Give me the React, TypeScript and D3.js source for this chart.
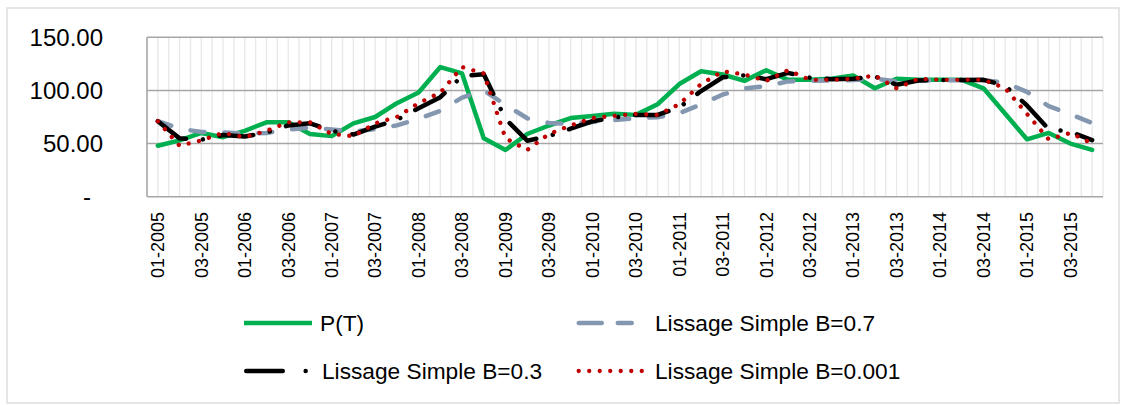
import React from 'react';
import * as d3 from 'd3';

// quarterly periods, labelled "QQ-YYYY"
const years = [2005, 2006, 2007, 2008, 2009, 2010, 2011, 2012, 2013, 2014, 2015];
const quarterCodes = ['01', '02', '03', '04'];
const periods = years.flatMap(y => quarterCodes.map(q => `${q}-${y}`));

const pT = [
  48, 53, 60, 56, 62, 70, 70, 59, 57, 69, 75, 88, 98, 122, 116, 55, 44, 59, 67, 74, 76, 78,
  77, 87, 106, 118, 115, 109, 119, 110, 110, 111, 114, 102, 111, 110, 110, 110, 102, 78, 54, 60, 50, 44
];
const lissage07 = [
  71, 64.1, 60.8, 60.6, 59.2, 60, 63, 65.1, 63.3, 61.4, 63.7, 67.1, 73.4, 80.8, 93.2, 100, 86.5, 73.8, 69.4, 68.7, 70.3, 72,
  73.8, 74.8, 78.5, 86.8, 96.2, 101.8, 104, 108.5, 109, 109.3, 109.8, 111.1, 108.4, 109.2, 109.4, 109.6, 109.7, 107.4, 98.6, 85.2, 77.6, 69.3
];
const lissage03 = [
  71, 54.9, 53.6, 58.1, 56.6, 60.4, 67.1, 69.1, 62, 58.5, 65.9, 72.3, 83.3, 93.6, 113.5, 115.3, 73.1, 52.7, 57.1, 64, 71, 74.5,
  77, 77, 84, 99.4, 112.4, 114.2, 110.6, 116.5, 112, 110.6, 110.9, 113.1, 105.3, 109.3, 109.8, 109.9, 110, 104.4, 85.9, 63.6, 61.1, 53.3
];
const lissage0001 = [
  71, 48, 53, 60, 56, 62, 70, 70, 59, 57, 69, 75, 88, 98, 122, 116, 55, 44, 59, 67, 74, 76,
  78, 77, 87, 106, 118, 115, 109, 119, 110, 110, 111, 114, 102, 111, 110, 110, 110, 102, 78, 54, 60, 50
];
const yTicks = [0, 50, 100, 150];

const series = [
  { name: 'P(T)', values: pT, color: '#00B050', width: 4.5, dash: null },
  { name: 'Lissage Simple B=0.7', values: lissage07, color: '#8497B0', width: 4.5, dash: '14 20' },
  { name: 'Lissage Simple B=0.3', values: lissage03, color: '#000000', width: 4.5, dash: '34 17 0.01 17' },
  { name: 'Lissage Simple B=0.001', values: lissage0001, color: '#C00000', width: 4.3, dash: '0.01 10.5' },
];

// legend layout: sample line start/end, dash pattern, text x, row y
const legendItems = [
  { s: series[0], x1: 244, x2: 312, dash: null, cap: 'butt', tx: 320, ly: 323 },
  { s: series[1], x1: 578.75, x2: 631.75, dash: '23 16', cap: 'round', tx: 655, ly: 323 },
  { s: series[2], x1: 246.25, x2: 305.7, dash: '36.5 22.9 0.01 100', cap: 'round', tx: 322, ly: 371 },
  { s: series[3], x1: 578.7, x2: 646, dash: '0.01 10.5', cap: 'round', tx: 655, ly: 371 },
];

const W = 1126;
const H = 405;
const plot = { left: 147, right: 1103, top: 37.3, bottom: 196.7 };
const font = '"Liberation Sans", Arial, sans-serif';

export default function App() {
  const x = d3.scaleBand().domain(periods).range([plot.left, plot.right]).padding(0);
  const bw = x.bandwidth();
  const cx = (p: string) => (x(p) as number) + bw / 2;
  const y = d3.scaleLinear().domain([0, 150]).range([plot.bottom, plot.top]);
  const fmt = d3.format(',.2f');

  const line = (vals: number[]) =>
    d3.line<number>()
      .x((_, i) => cx(periods[i]))
      .y(d => y(d))(vals) as string;

  // minor gridlines every half category
  const minor = d3.range(1, periods.length * 2 + 1).map(k => plot.left + (k * bw) / 2);

  return (
    <svg width={W} height={H} style={{ position: 'absolute', left: 0, top: 0, display: 'block', background: '#fff' }}>
      <rect x={7} y={8} width={1112} height={395} fill="#fff" stroke="#D9D9D9" strokeWidth={1.3} />

      {/* vertical minor grid */}
      {minor.map((gx, i) => (
        <line key={'m' + i} x1={gx} x2={gx} y1={plot.top} y2={plot.bottom} stroke="#E8E8E8" strokeWidth={1.3} />
      ))}

      {/* horizontal grid */}
      {yTicks.map(t => (
        <line key={'h' + t} x1={plot.left} x2={plot.right} y1={y(t)} y2={y(t)} stroke="#A6A6A6" strokeWidth={1.6} />
      ))}
      <line x1={plot.left} x2={plot.left} y1={plot.top} y2={plot.bottom} stroke="#A6A6A6" strokeWidth={1.6} />

      {/* y labels */}
      {yTicks.map(t => (
        <text key={'yl' + t} x={t === 0 ? 91 : 103} y={y(t)} dy="0.35em" textAnchor="end"
          fontFamily={font} fontSize={24} fill="#000">
          {t === 0 ? '-' : fmt(t)}
        </text>
      ))}

      {/* x labels */}
      {periods.filter((_, i) => i % 2 === 0).map(p => (
        <text key={'xl' + p} transform={`translate(${cx(p)},212) rotate(-90)`} dy="0.35em" textAnchor="end"
          fontFamily={font} fontSize={18} fill="#000">
          {p}
        </text>
      ))}

      {/* series */}
      {series.map(s => (
        <path key={s.name} d={line(s.values)} fill="none" stroke={s.color} strokeWidth={s.width}
          strokeDasharray={s.dash ?? undefined} strokeLinecap="round" strokeLinejoin="round" />
      ))}

      {/* legend */}
      {legendItems.map(({ s, x1, x2, dash, cap, tx, ly }) => (
        <g key={'lg' + s.name}>
          <line x1={x1} x2={x2} y1={ly} y2={ly} stroke={s.color} strokeWidth={s.width}
            strokeDasharray={dash ?? undefined} strokeLinecap={cap as 'butt' | 'round'} />
          <text x={tx} y={ly} dy="0.35em" fontFamily={font} fontSize={22.7} fill="#000">
            {s.name}
          </text>
        </g>
      ))}
    </svg>
  );
}
